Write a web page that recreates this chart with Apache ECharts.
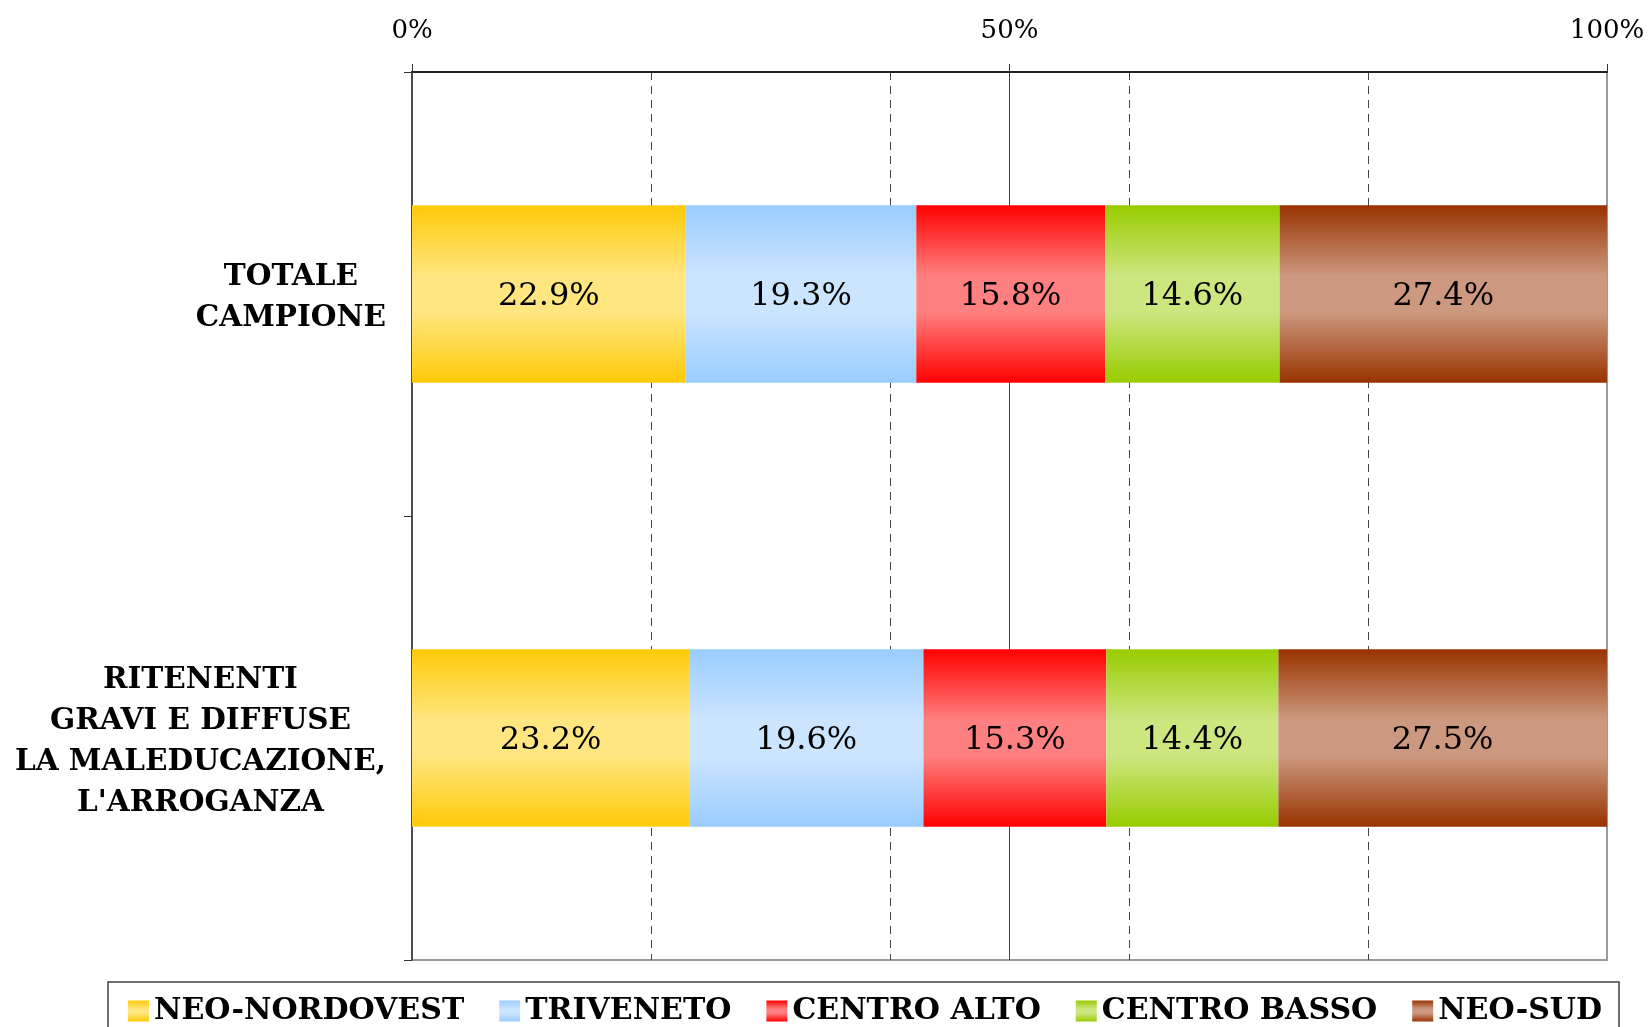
<!DOCTYPE html>
<html>
<head>
<meta charset="utf-8">
<script src="https://cdn.jsdelivr.net/npm/echarts@6/dist/echarts.min.js"></script>
<style>
  html, body { margin: 0; padding: 0; background: #fff; }
  #chart { width: 1650px; height: 1027px; }
</style>
</head>
<body>
<div id="chart"></div>
<script>
const categories = ['TOTALE\nCAMPIONE', 'RITENENTI\nGRAVI E DIFFUSE\nLA MALEDUCAZIONE,\nL\'ARROGANZA'];
const seriesNames = ['NEO-NORDOVEST', 'TRIVENETO', 'CENTRO ALTO', 'CENTRO BASSO', 'NEO-SUD'];
const neoNordovest = [22.9, 23.2];
const triveneto = [19.3, 19.6];
const centroAlto = [15.8, 15.3];
const centroBasso = [14.6, 14.4];
const neoSud = [27.4, 27.5];
const xTicks = [0, 50, 100];

const seriesValues = [neoNordovest, triveneto, centroAlto, centroBasso, neoSud];
// edge colour / middle colour of each bar gradient
const palette = [
  ['#FFCA08', '#FFE680'],
  ['#99CCFF', '#CCE5FF'],
  ['#FF0000', '#FF8080'],
  ['#99CC00', '#CCE680'],
  ['#993300', '#CC9980']
];

const serif = 'DejaVu Serif';

const gradient = ([edge, mid]) => new echarts.graphic.LinearGradient(0, 0, 0, 1, [
  { offset: 0, color: edge },
  { offset: 0.4, color: mid },
  { offset: 0.6, color: mid },
  { offset: 1, color: edge }
]);

const chart = echarts.init(document.getElementById('chart'));

const option = {
  backgroundColor: '#fff',
  animation: false,
  grid: {
    left: 412,
    right: 43,
    top: 72,
    bottom: 67,
    show: true,
    borderColor: '#9a9a9a',
    borderWidth: 2
  },
  legend: {
    data: seriesNames,
    left: 108,
    top: 982,
    icon: 'rect',
    itemWidth: 21,
    itemHeight: 21,
    itemGap: 35,
    padding: [14, 17, 40, 20],
    borderColor: '#404040',
    borderWidth: 1.5,
    textStyle: { fontFamily: serif, fontWeight: 'bold', fontSize: 30, color: '#000' }
  },
  xAxis: [
    {
      type: 'value',
      position: 'top',
      min: 0,
      max: 100,
      interval: 50,
      axisLine: { show: true, lineStyle: { color: '#222', width: 2 } },
      axisTick: { show: true, length: 8, lineStyle: { color: '#333', width: 1 } },
      axisLabel: {
        formatter: v => xTicks.includes(v) ? v + '%' : '',
        fontFamily: serif, fontSize: 26, lineHeight: 26, color: '#000', margin: 28
      },
      splitLine: {
        show: true, showMinLine: false, showMaxLine: false,
        lineStyle: { color: '#444', width: 1, type: 'solid' }
      }
    },
    {
      type: 'value',
      position: 'top',
      min: 0,
      max: 100,
      interval: 20,
      axisLine: { show: false },
      axisTick: { show: false },
      axisLabel: { show: false },
      splitLine: {
        show: true, showMinLine: false, showMaxLine: false,
        lineStyle: { color: '#444', width: 1, type: [8, 6] }
      }
    }
  ],
  yAxis: {
    type: 'category',
    inverse: true,
    data: categories,
    axisLine: { show: true, lineStyle: { color: '#333', width: 1.5 } },
    axisTick: { show: true, length: 8, lineStyle: { color: '#333' } },
    axisLabel: {
      margin: 26,
      align: 'right',
      padding: [7, 0, 0, 0],
      formatter: v => v.split('\n').map(s => '{c|' + s + '}').join('\n'),
      rich: {
        c: { fontFamily: serif, fontWeight: 'bold', fontSize: 29.5, lineHeight: 41, color: '#000', align: 'center' }
      }
    }
  },
  series: seriesNames.map((name, i) => ({
    name,
    type: 'bar',
    stack: 'total',
    xAxisIndex: 0,
    barWidth: '40%',
    itemStyle: { color: gradient(palette[i]) },
    label: {
      show: true,
      position: 'inside',
      offset: [0, 3],
      formatter: p => p.value.toFixed(1) + '%',
      fontFamily: serif,
      fontSize: 32,
      color: '#000'
    },
    data: seriesValues[i]
  }))
};

chart.setOption(option);
</script>
</body>
</html>
